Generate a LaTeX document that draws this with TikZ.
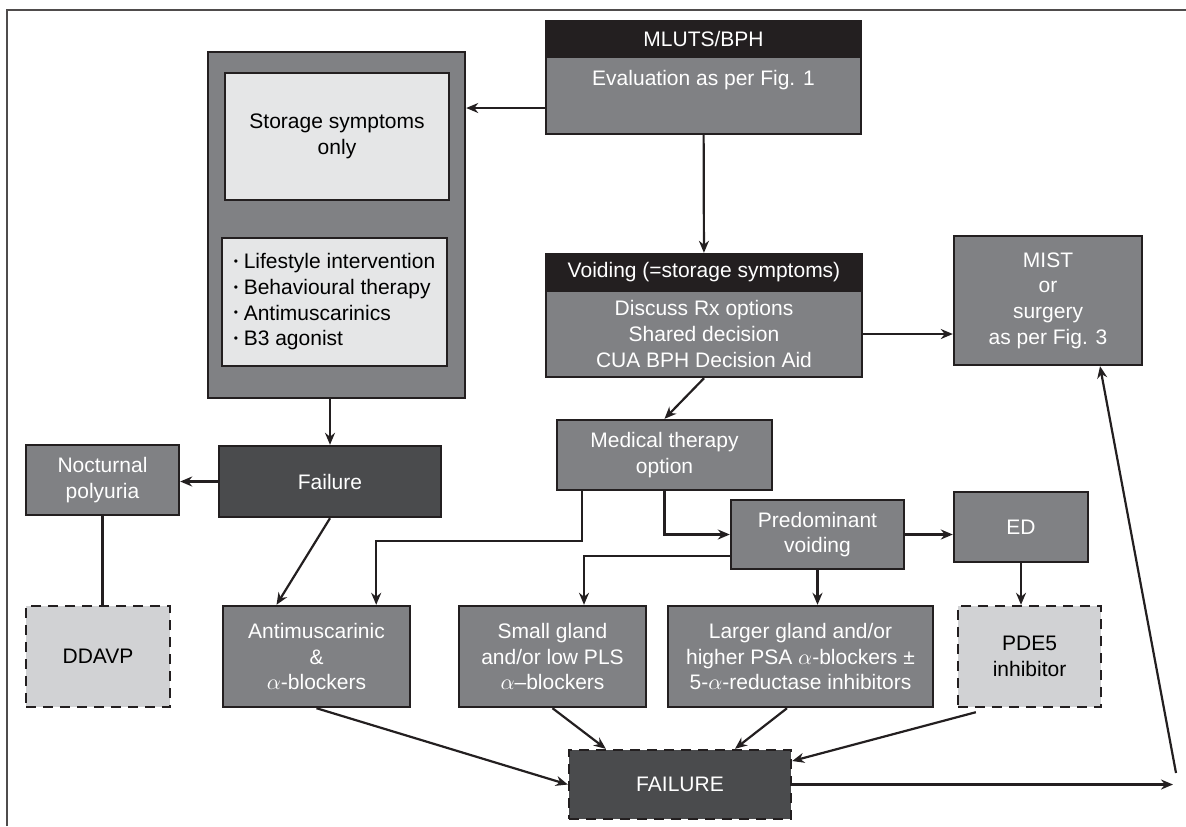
\documentclass[tikz,border=0pt]{standalone}
\usepackage{fontspec}
\setmainfont{Liberation Sans}
\usetikzlibrary{arrows.meta,calc,positioning}
\definecolor{boxGray}{RGB}{128,129,132}
\definecolor{hdrBlack}{RGB}{35,31,32}
\definecolor{failDark}{RGB}{74,75,77}
\definecolor{paleGray}{RGB}{229,230,231}
\definecolor{dashGray}{RGB}{209,210,212}
\definecolor{ink}{RGB}{35,31,32}
\newcommand\lbul{\raisebox{0.3ex}{\fontsize{6}{6}\selectfont\textbullet}\ }
\tikzset{
    >={Stealth[length=6pt,width=5pt]},
    every node/.append style={align=center,font=\fontsize{10.5}{12.85}\selectfont},
    boxwh/.style 2 args={minimum width=#1*0.5pt,minimum height=#2*0.5pt},
    gbox/.style={draw=ink,line width=1.2pt,fill=boxGray,text=white,inner sep=0pt},
    hbox/.style={gbox,fill=hdrBlack},
    dbox/.style={gbox,fill=failDark},
    lbox/.style={gbox,fill=paleGray,text=black},
    dashbox/.style={gbox,fill=dashGray,text=black,dash pattern=on 5pt off 3.5pt},
    link/.style={draw=ink,line width=1.1pt},
}

\begin{document}
\begin{tikzpicture}[x=0.5pt,y=-0.5pt]
        \useasboundingbox (0,0) rectangle (1186,826);
        \draw[ink!80,line width=0.6pt] (7,826) -- (7,10) -- (1186,10);

        % top row
        \node[hbox,boxwh={315}{36}] (mluts) at (703.5,39) {MLUTS/BPH};
        \node[gbox,boxwh={315}{77}] (eval) at (703.5,95.5) {};
        \node[text=white] (evaltxt) at (703.5,80) {Evaluation as per Fig. 1};

        \node[gbox,boxwh={257}{346}] (store) at (336.5,225) {};
        \node[lbox,boxwh={224}{127}] (storeonly) at (337,136.5) {Storage symptoms\\only};
        \node[lbox,boxwh={225}{128},align=left] (storelist) at (334.5,302)
                {\lbul Lifestyle intervention\\\lbul Behavioural therapy\\\lbul Antimuscarinics\\\lbul B3 agonist};

        \node[hbox,boxwh={316}{37}] (voidh) at (704,272.5) {Voiding (=storage symptoms)};
        \node[gbox,boxwh={316}{86}] (voidb) at (704,334) {Discuss Rx options\\Shared decision\\CUA BPH Decision Aid};
        \node[gbox,boxwh={188}{129}] (mist) at (1048,300.5) {MIST\\or\\surgery\\as per Fig. 3};

        % middle row
        \node[gbox,boxwh={153}{70}] (noct) at (102.5,480) {Nocturnal\\polyuria};
        \node[dbox,boxwh={222}{71}] (failure) at (330,481.5) {Failure};
        \node[gbox,boxwh={215}{70}] (med) at (664.5,455) {Medical therapy\\option};
        \node[gbox,boxwh={173}{69}] (pred) at (817.5,534.5) {Predominant\\voiding};
        \node[gbox,boxwh={134}{70}] (ed) at (1021,527) {ED};

        % bottom row
        \node[dashbox,boxwh={144}{101}] (ddavp) at (98,656.5) {DDAVP};
        \node[gbox,boxwh={187}{101}] (antim) at (316.5,656.5) {Antimuscarinic\\\&\\$\alpha$-blockers};
        \node[gbox,boxwh={187}{101}] (small) at (552.5,656.5) {Small gland\\and/or low PLS\\$\alpha$–blockers};
        \node[gbox,boxwh={265}{101}] (larger) at (800.5,656.5)
                {Larger gland and/or\\higher PSA $\alpha$-blockers ±\\5-$\alpha$-reductase inhibitors};
        \node[dashbox,boxwh={143}{101}] (pde) at (1029.5,656.5) {PDE5\\inhibitor};
        \node[dashbox,fill=failDark,text=white,boxwh={222}{69}] (fail) at (680,784.5) {FAILURE};

        \coordinate (failend) at (1173,784.5);
        \coordinate (backstart) at (1176,773);

        % connectors
        \draw[link,->] ($(eval.west)+(0,12.5)$) coordinate (e1) -- (e1 -| store.east);
        \draw[link,->] (eval) -- (voidh);
        \draw[link,->] (voidb.east) -- (voidb.east -| mist.west);
        \draw[link,->] (voidb.south) -- (med.north);
        \draw[link,->] ($(med.south west)+(26,0)$) -- ++(0,50) -| ($(antim.north east)+(-35,0)$);
        \draw[link,->] (med.south) |- (pred.west);
        \draw[link,->] ($(pred.south west)+(0,-14)$) -| ($(small.north)+(31.5,0)$);
        \draw[link,->] (pred.south) -- (pred.south |- larger.north);
        \draw[link,->] (pred.east) -- (pred.east -| ed.west);
        \draw[link,->] (ed.south) -- (ed.south |- pde.north);
        \draw[link,->] (failure.north |- store.south) -- (failure.north);
        \draw[link,->] (failure.west) -- (failure.west -| noct.east);
        \draw[link] (noct.south) -- (noct.south |- ddavp.north);
        \draw[link,->] (failure.south) -- ($(antim.north)+(-40,0)$);
        \draw[link,->] (antim.south) -- (fail.west);
        \draw[link,->] (small.south) -- ($(fail.north west)+(38,0)$);
        \draw[link,->] ($(larger.south)+(-13.5,0)$) -- ($(fail.north)+(55,0)$);
        \draw[link,->] ($(pde.south west)+(19,4)$) -- ($(fail.east)+(0,-23.5)$);
        \draw[link,->] (fail.east) -- (failend);
        \draw[link,->] (backstart) -- ($(mist.south)+(52,0)$);
\end{tikzpicture}
\end{document}
